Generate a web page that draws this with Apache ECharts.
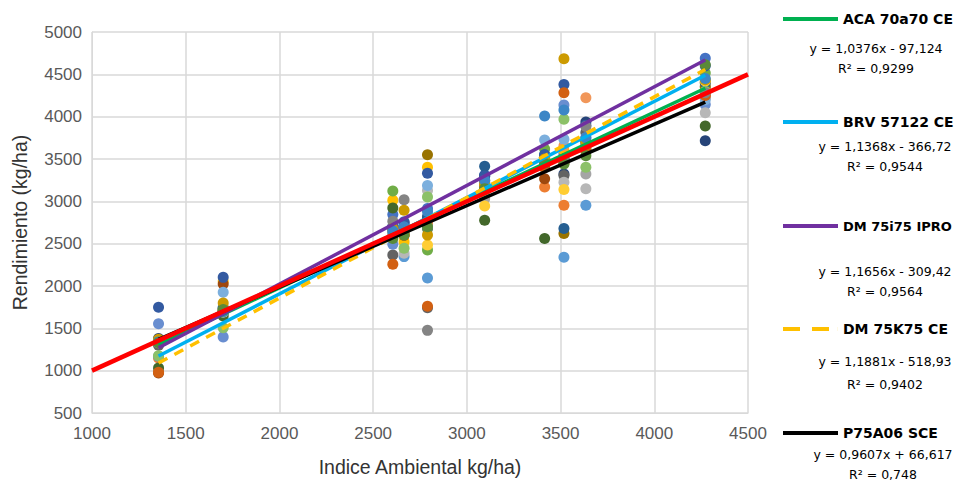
<!DOCTYPE html>
<html>
<head>
<meta charset="utf-8">
<script src="https://cdn.jsdelivr.net/npm/echarts@6/dist/echarts.min.js"></script>
<style>
  html, body { margin: 0; padding: 0; background: #fff; }
  #chart { width: 954px; height: 482px; }
</style>
</head>
<body>
<div id="chart"></div>
<script>
// indice ambiental de cada ensayo (eje x)
const envX = [1355, 1700, 2605, 2665, 2790, 3095, 3415, 3518, 3635, 4272]

// rendimientos por híbrido (kg/ha), uno por ensayo
const rend01 = [1330, 1700, 2844, 2758, 2914, 3312, 3500, 3559, 3650, 4691]
const rend02 = [1150, 1720, 2650, 2680, 2797, 3180, 3168, 2953, 3600, 4223]
const rend03 = [1340, 1690, 2700, 2620, 2750, 3031, 3450, 3480, 3324, 4359]
const rend04 = [1360, 2055, 3012, 2523, 3402, 3150, 3520, 3600, 3700, 4400]
const rend05 = [1170, 1750, 2620, 2347, 2094, 3200, 3480, 2340, 2953, 4250]
const rend06 = [1320, 1710, 3121, 2640, 2426, 3250, 3617, 3500, 3620, 4516]
const rend07 = [1380, 1730, 2700, 2700, 2800, 3300, 3500, 3324, 3938, 3715]
const rend08 = [973, 2023, 2600, 2700, 2750, 3226, 3266, 3450, 3700, 4300]
const rend09 = [1300, 1680, 2367, 2680, 1742, 3150, 3400, 3304, 3813, 4300]
const rend10 = [1340, 1700, 2650, 2600, 3550, 3200, 3450, 2621, 3650, 4350]
const rend11 = [1360, 1740, 2680, 2720, 2820, 3414, 3550, 2680, 3700, 4400]
const rend12 = [1031, 1645, 2922, 2650, 2680, 2777, 2562, 3500, 3600, 3891]
const rend13 = [1555, 1399, 2492, 2700, 2700, 3180, 3500, 4137, 3750, 4145]
const rend14 = [1340, 1700, 2640, 2650, 2750, 3150, 3450, 3656, 4223, 4250]
const rend15 = [1330, 1690, 2620, 2387, 3129, 3120, 3460, 3226, 3148, 4047]
const rend16 = [1350, 1710, 2600, 2620, 2484, 2945, 3500, 3140, 3650, 4420]
const rend17 = [1340, 1926, 2620, 2650, 3187, 3200, 3723, 3734, 3680, 4200]
const rend18 = [1176, 1508, 2650, 2445, 3051, 3100, 3500, 3969, 3402, 4300]
const rend19 = [1750, 2102, 2700, 2750, 3332, 3300, 3550, 4379, 3900, 4600]
const rend20 = [980, 1700, 2258, 2600, 1762, 3180, 3400, 4282, 3600, 4250]
const rend21 = [1340, 1700, 2766, 3020, 1476, 3150, 3450, 3500, 3883, 4282]
const rend22 = [1370, 1800, 2680, 2894, 2601, 3200, 3500, 4684, 3700, 4437]
const rend23 = [1340, 1700, 2650, 2700, 2880, 3250, 4007, 4078, 3750, 4450]
const rend24 = [1330, 1722, 2562, 2601, 2700, 3150, 3450, 3442, 3539, 4613]

// líneas de tendencia (según ecuaciones de la planilla)
const trendNames = ['ACA 70a70 CE', 'BRV 57122 CE', 'DM 75i75 IPRO', 'DM 75K75 CE', 'P75A06 SCE']
const trendSlope = [1.0376, 1.1368, 1.1656, 1.1881, 0.9607]
const trendIntercept = [-97.124, -366.72, -309.42, -518.93, 66.617]
const trendEq = ['y = 1,0376x - 97,124', 'y = 1,1368x - 366,72', 'y = 1,1656x - 309,42', 'y = 1,1881x - 518,93', 'y = 0,9607x + 66,617']
const trendR2 = ['R² = 0,9299', 'R² = 0,9544', 'R² = 0,9564', 'R² = 0,9402', 'R² = 0,748']

// recta 1:1
const refLine = [1000, 4500]

const rendimientos = [rend01, rend02, rend03, rend04, rend05, rend06, rend07, rend08, rend09, rend10, rend11, rend12,
  rend13, rend14, rend15, rend16, rend17, rend18, rend19, rend20, rend21, rend22, rend23, rend24]

const puntoColors = ['#4472C4', '#ED7D31', '#A5A5A5', '#FFC000', '#5B9BD5', '#70AD47',
  '#264478', '#9E480E', '#636363', '#997300', '#255E91', '#43682B',
  '#698ED0', '#F1975A', '#B7B7B7', '#FFCD33', '#7CAFDD', '#8CC168',
  '#335AA1', '#D26012', '#848484', '#CC9A00', '#3C86C6', '#5A8A39']
const trendColors = ['#00B050', '#00B0F0', '#7030A0', '#FFC000', '#000000']

const chart = echarts.init(document.getElementById('chart'), null, { renderer: 'svg' })

const series = []
rendimientos.forEach((r, i) => {
  series.push({
    name: 'h' + (i + 1),
    type: 'scatter',
    symbol: 'circle',
    symbolSize: 11,
    itemStyle: { color: puntoColors[i], opacity: 1 },
    data: envX.map((x, j) => [x, r[j]]),
    z: 2
  })
})

const x0 = envX[0]
const x1 = envX[envX.length - 1]
trendNames.forEach((n, i) => {
  series.push({
    name: n,
    type: 'line',
    symbol: 'none',
    silent: true,
    lineStyle: {
      color: trendColors[i],
      width: 3.5,
      type: i === 3 ? [10, 8] : 'solid'
    },
    itemStyle: { color: trendColors[i] },
    data: [
      [x0, trendSlope[i] * x0 + trendIntercept[i]],
      [x1, trendSlope[i] * x1 + trendIntercept[i]]
    ],
    z: 3
  })
})

series.push({
  name: '1:1',
  type: 'line',
  symbol: 'none',
  silent: true,
  lineStyle: { color: '#FF0000', width: 4.5 },
  data: refLine.map((v) => [v, v]),
  z: 4
})

// leyenda: una por línea, para ubicarlas como en la planilla
const legendY = [19, 122, 226, 329, 433]
const legends = trendNames.map((n, i) => ({
  data: [{
    name: n,
    icon: i === 3 ? 'path://M0,0h17v4h-17zM29,0h17v4h-17zM54.9,0h0.1v4h-0.1z' : 'rect',
    itemStyle: { color: trendColors[i] }
  }],
  left: 783,
  top: legendY[i] - 7,
  itemWidth: 55,
  itemHeight: 4,
  itemGap: 0,
  padding: 0,
  selectedMode: false,
  textStyle: {
    fontFamily: 'DejaVu Sans', fontWeight: 'bold', fontSize: i === 2 ? 13 : 14,
    color: '#000', lineHeight: 14, padding: [0, 0, 0, 0]
  }
}))

const eqY = [48, 146, 271, 361, 454]
const r2Y = [68, 166, 291, 384, 474]
const eqCx = [876, 885, 885, 885, 883]
const graphic = []
trendEq.forEach((t, i) => {
  graphic.push({
    type: 'text', x: eqCx[i], y: eqY[i],
    style: { text: t, fill: '#000', font: '12.5px "DejaVu Sans"', align: 'center', verticalAlign: 'middle' }
  })
  graphic.push({
    type: 'text', x: eqCx[i], y: r2Y[i],
    style: { text: trendR2[i], fill: '#000', font: '12.5px "DejaVu Sans"', align: 'center', verticalAlign: 'middle' }
  })
})

const option = {
  animation: false,
  backgroundColor: '#fff',
  grid: { left: 92, right: 206, top: 32, bottom: 66 },
  legend: legends,
  xAxis: {
    type: 'value',
    min: 1000,
    max: 4500,
    interval: 500,
    name: 'Indice Ambiental kg/ha)',
    nameLocation: 'middle',
    nameGap: 44,
    nameTextStyle: { fontFamily: 'Liberation Sans', fontSize: 19.5, color: '#333' },
    axisLine: { show: true, lineStyle: { color: '#D9D9D9' } },
    axisTick: { show: false },
    axisLabel: { fontFamily: 'Liberation Sans', fontSize: 17, color: '#595959', margin: 12, formatter: (v) => String(v) },
    splitLine: { show: true, lineStyle: { color: '#D9D9D9', width: 1.5 } }
  },
  yAxis: {
    type: 'value',
    min: 500,
    max: 5000,
    interval: 500,
    name: 'Rendimiento (kg/ha)',
    nameLocation: 'middle',
    nameGap: 62,
    nameTextStyle: { fontFamily: 'Liberation Sans', fontSize: 19.5, color: '#333' },
    axisLine: { show: true, lineStyle: { color: '#D9D9D9' } },
    axisTick: { show: false },
    axisLabel: { fontFamily: 'Liberation Sans', fontSize: 17, color: '#595959', margin: 10, formatter: (v) => String(v) },
    splitLine: { show: true, lineStyle: { color: '#D9D9D9', width: 1.5 } }
  },
  graphic: graphic,
  series: series
}

chart.setOption(option)
</script>
</body>
</html>
